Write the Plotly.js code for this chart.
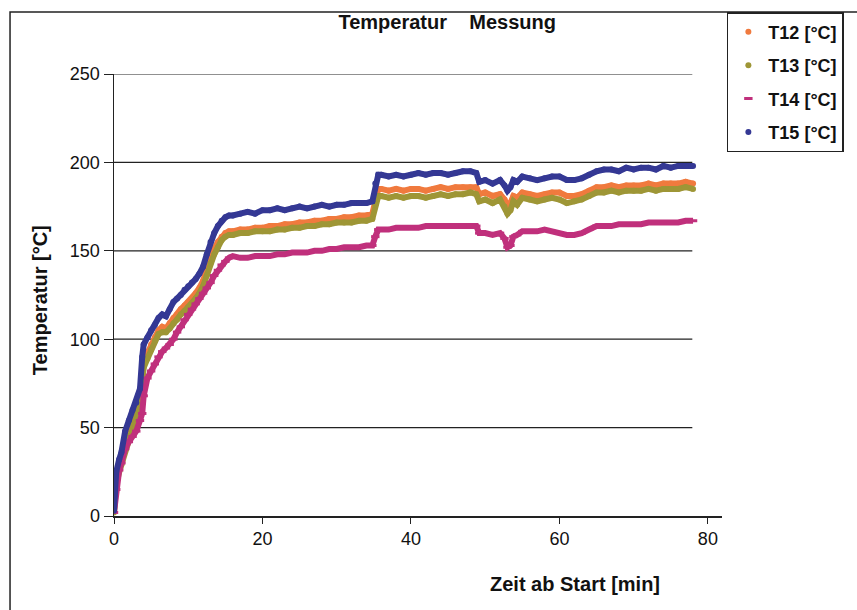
<!DOCTYPE html>
<html>
<head>
<meta charset="utf-8">
<script src="https://cdn.plot.ly/plotly-3.0.1.min.js"></script>
<style>
html,body{margin:0;padding:0;background:#fff;}
#chart{width:857px;height:610px;}
</style>
</head>
<body>
<div id="chart"></div>
<script>
// time (minutes since start)
const timeMin = [0,0.3,0.7,1,1.5,2,2.5,3,3.5,3.8, 4,4.5,5,5.5,6,6.5,7,7.5,8,8.5, 9,9.5,10,10.5,11,11.5,12,12.5,13,13.5, 14,14.5,15,15.5,16, 17,18,19,20,21,22,23,24,25,26,27,28,29,30,31,32,33,34, 34.8,35.2,35.6, 36,37,38,39,40,41,42,43,44,45,46,47,48, 48.8,49.2, 50,51,52, 52.6,53,53.4,53.8,54.3, 55,56,57,58,59,60,61,62,63,64,65,66,67,68,69,70,71,72,73,74,75,76,77,78];

const T12 = [3,20,27,31,40,47,53,58,66,80, 87,92,97,101,105,107,106,109,112,114, 117,119,121,123,126,129,133,139,146,151, 155,158,160,161,161, 162,162,163,163,164,164,165,165,166,166,167,167,168,168,169,169,170,170, 171,180,185, 185,184,185,184,185,185,184,185,186,185,186,186,186, 186,182, 183,181,182, 179,175,177,181,180, 183,182,181,182,183,183,181,181,182,184,186,186,187,186,187,187,187,188,187,188,188,188,189,188];

const T13 = [2,18,25,29,38,45,51,56,63,76, 84,89,94,99,103,104,104,106,109,111, 114,116,118,120,123,126,130,136,143,148, 152,156,158,159,159, 160,160,161,161,161,162,162,163,163,164,164,165,165,166,166,166,167,167, 168,176,181, 181,180,181,180,181,181,180,181,182,181,182,182,183, 182,178, 179,177,179, 175,171,173,178,176, 180,179,178,179,180,179,177,178,179,181,183,183,184,183,184,184,184,185,184,185,185,185,186,185];

const T14 = [2,15,26,30,38,42,45,48,54,58, 68,78,82,86,90,93,95,97,100,104, 107,111,114,117,120,123,126,129,132,136, 139,142,144,146,147, 146,146,147,147,147,148,148,149,149,149,150,150,151,151,152,152,152,153, 153,158,162, 162,162,163,163,163,163,164,164,164,164,164,164,164, 164,160, 160,159,160, 157,152,153,158,159, 161,161,161,162,161,160,159,159,160,162,164,164,164,165,165,165,165,166,166,166,166,166,167,167];

const T15 = [3,25,32,36,48,54,60,64,72,90, 97,101,105,108,112,114,113,117,121,123, 125,128,130,132,134,137,141,148,155,160, 164,167,169,170,170, 171,172,171,173,173,174,173,174,175,174,175,176,175,176,176,177,177,177, 178,188,193, 193,192,193,192,193,194,193,194,194,193,194,195,195, 194,189, 190,188,190, 187,184,186,190,189, 192,191,190,191,192,192,190,190,191,193,195,196,196,195,197,196,197,197,196,198,197,198,198,198];

const seriesNames = ["T12 [°C]","T13 [°C]","T14 [°C]","T15 [°C]"];
const seriesValues = [T12, T13, T14, T15];
const yTicks = [0,50,100,150,200,250];
const xTicks = [0,20,40,60,80];

const colors = ["#F07A3E","#9E9636","#C0307C","#343894"];
const symbols = ["circle","circle","line-ew-open","circle"];

const traces = [];
seriesValues.forEach((vals, i) => {
  traces.push({
    x: timeMin, y: vals, type: "scatter", mode: "lines",
    line: {color: colors[i], width: 6},
    legendgroup: "g" + i, showlegend: false, hoverinfo: "skip"
  });
  traces.push({
    x: timeMin, y: vals, type: "scatter", mode: "markers",
    name: seriesNames[i], legendgroup: "g" + i,
    marker: {color: colors[i], size: 6, symbol: symbols[i],
             line: {color: colors[i], width: symbols[i] === "line-ew-open" ? 3 : 0}}
  });
});

const shapes = [];
// horizontal gridlines
yTicks.filter(v => v > 0).forEach(v => {
  shapes.push({type: "line", xref: "x", yref: "y", x0: 0, x1: 77.9, y0: v, y1: v,
               line: {color: "#222", width: 1.2}, layer: "below"});
});
// outer chart frame
shapes.push({type: "rect", xref: "paper", yref: "paper", x0: -0.171, x1: 2, y0: -0.5, y1: 1.14,
             line: {color: "#222", width: 1.5}});

const layout = {
  width: 857, height: 610,
  margin: {l: 114, r: 135, t: 66, b: 94},
  paper_bgcolor: "#fff", plot_bgcolor: "#fff",
  font: {family: "Liberation Sans, Arial, sans-serif", color: "#111", size: 16},
  title: {text: "<b>Temperatur&nbsp;&nbsp;&nbsp;&nbsp;Messung</b>", x: 0.548, xref: "paper", xanchor: "center",
          y: 0.964, yref: "container", yanchor: "middle",
          font: {size: 20, color: "#111"}},
  xaxis: {range: [0, 81.9], tickvals: xTicks, ticktext: xTicks.map(String), showgrid: false, zeroline: false,
          showline: true, linecolor: "#222", linewidth: 1.5, ticks: "outside", ticklen: 6, tickcolor: "#222",
          tickfont: {size: 18}, fixedrange: true},
  yaxis: {range: [0, 250], tickvals: yTicks, ticktext: yTicks.map(String), showgrid: false, zeroline: false,
          showline: true, linecolor: "#222", linewidth: 1.5, ticks: "outside", ticklen: 9, tickcolor: "#222",
          tickfont: {size: 18}, fixedrange: true},
  showlegend: true,
  legend: {x: 1.008, xanchor: "left", y: 1.14, yanchor: "top", bordercolor: "#222", borderwidth: 1.5,
           bgcolor: "#fff", font: {size: 18, color: "#111", weight: "bold"}, tracegroupgap: 7, itemwidth: 30},
  shapes: shapes,
  annotations: [
    {text: "<b>Zeit ab Start [min]</b>", xref: "paper", yref: "paper", x: 0.759, y: -0.153,
     xanchor: "center", yanchor: "middle", showarrow: false, font: {size: 20}},
    {text: "<b>Temperatur [°C]</b>", xref: "paper", yref: "paper", x: -0.122, y: 0.488,
     xanchor: "center", yanchor: "middle", showarrow: false, textangle: -90, font: {size: 20}}
  ]
};

Plotly.newPlot("chart", traces, layout, {displayModeBar: false, staticPlot: true});
</script>
</body>
</html>
